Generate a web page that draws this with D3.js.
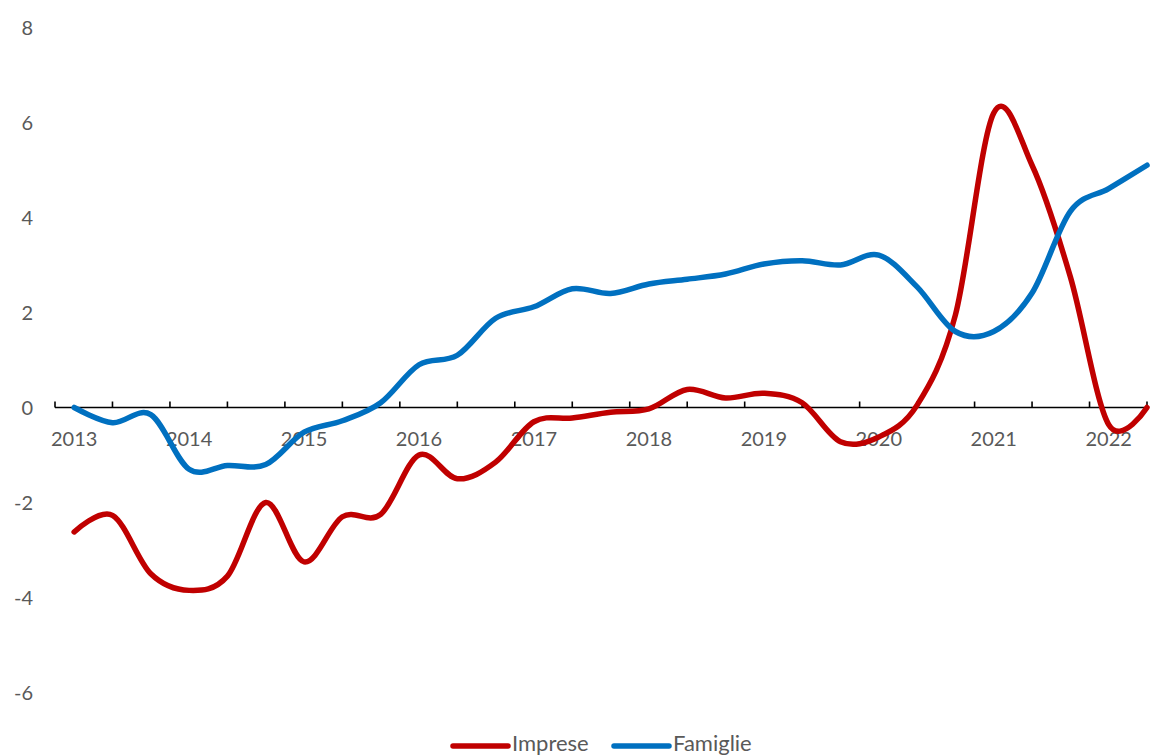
<!DOCTYPE html>
<html>
<head>
<meta charset="utf-8">
<script src="https://cdn.jsdelivr.net/npm/d3@7"></script>
<style>
  html, body { margin: 0; padding: 0; background: #fff; }
  svg text { font-family: Lato, "Open Sans", sans-serif; fill: #595959; }
</style>
</head>
<body>
<svg id="chart" width="1154" height="756"></svg>
<script>
// Observation periods: three per year (Mar, Jul, Nov), from Mar 2013 to Mar 2022, then Jun 2022
const periods = [];
for (let y = 2013; y <= 2022; y++) {
  ["03", "07", "11"].forEach(m => {
    if (y === 2022 && m !== "03") return;
    periods.push(y + "-" + m);
  });
}
periods.push("2022-06");

// Percentage changes over 12 months
const imprese = [
  -2.62, -2.27, -3.5, -3.85, -3.55, -2.0, -3.25, -2.3,
  -2.25, -1.0, -1.5, -1.15, -0.3, -0.22, -0.1, -0.03,
  0.38, 0.2, 0.3, 0.1, -0.72, -0.62, 0.05, 1.95,
  6.2, 5.1, 2.75, -0.36, 0.0
];
const famiglie = [
  0.0, -0.32, -0.15, -1.3, -1.22, -1.2, -0.52, -0.28,
  0.1, 0.9, 1.1, 1.88, 2.12, 2.5, 2.4, 2.6,
  2.7, 2.81, 3.02, 3.09, 3.0, 3.21, 2.54, 1.6,
  1.6, 2.41, 4.13, 4.61, 5.1
];

const yTicks = [-6, -4, -2, 0, 2, 4, 6, 8];
const yearLabels = d3.range(2013, 2023);
const seriesNames = ["Imprese", "Famiglie"];
const colors = ["#C00000", "#0070C0"];

const svg = d3.select("#chart");

// x: observation index; the axis runs from half a step before the first
// observation to the last one, i.e. from January 2013 to mid-2022
const x = d3.scaleLinear().domain([-0.5, periods.length - 1]).range([55, 1147]);
const y = d3.scaleLinear().domain([-6, 8]).range([692.5, 27.5]);

// y tick labels
svg.append("g")
  .selectAll("text")
  .data(yTicks)
  .join("text")
  .attr("x", 33)
  .attr("y", d => y(d))
  .attr("dy", "0.35em")
  .attr("text-anchor", "end")
  .attr("font-size", 20)
  .text(d => d);

// zero axis with half-year ticks (every 1.5 observations)
const axis = svg.append("g");
axis.append("line")
  .attr("x1", x(-0.5)).attr("x2", x(periods.length - 1))
  .attr("y1", y(0)).attr("y2", y(0))
  .attr("stroke", "#000").attr("stroke-width", 1.6);
axis.selectAll("line.tick")
  .data(d3.range(-0.5, periods.length - 0.99, 1.5))
  .join("line")
  .attr("class", "tick")
  .attr("x1", d => x(d)).attr("x2", d => x(d))
  .attr("y1", y(0)).attr("y2", y(0) - 6)
  .attr("stroke", "#000").attr("stroke-width", 1.6);

// year labels under the first observation of each year
svg.append("g")
  .selectAll("text")
  .data(yearLabels)
  .join("text")
  .attr("x", d => x(periods.indexOf(d + "-03")))
  .attr("y", y(0) + 38)
  .attr("text-anchor", "middle")
  .attr("font-size", 20)
  .text(d => d);

// lines
const line = d3.line()
  .x((d, i) => x(i))
  .y(d => y(d))
  .curve(d3.curveCardinal.tension(0));

[imprese, famiglie].forEach((s, k) => {
  svg.append("path")
    .datum(s)
    .attr("d", line)
    .attr("fill", "none")
    .attr("stroke", colors[k])
    .attr("stroke-width", 5.5)
    .attr("stroke-linecap", "round")
    .attr("stroke-linejoin", "round");
});

// legend
const legend = svg.append("g");
const legendX = [453, 614];
seriesNames.forEach((name, k) => {
  legend.append("line")
    .attr("x1", legendX[k]).attr("x2", legendX[k] + 55)
    .attr("y1", 746).attr("y2", 746)
    .attr("stroke", colors[k]).attr("stroke-width", 5.5)
    .attr("stroke-linecap", "round");
  legend.append("text")
    .attr("x", legendX[k] + 59)
    .attr("y", 751)
    .attr("font-size", 22)
    .text(name);
});
</script>
</body>
</html>
